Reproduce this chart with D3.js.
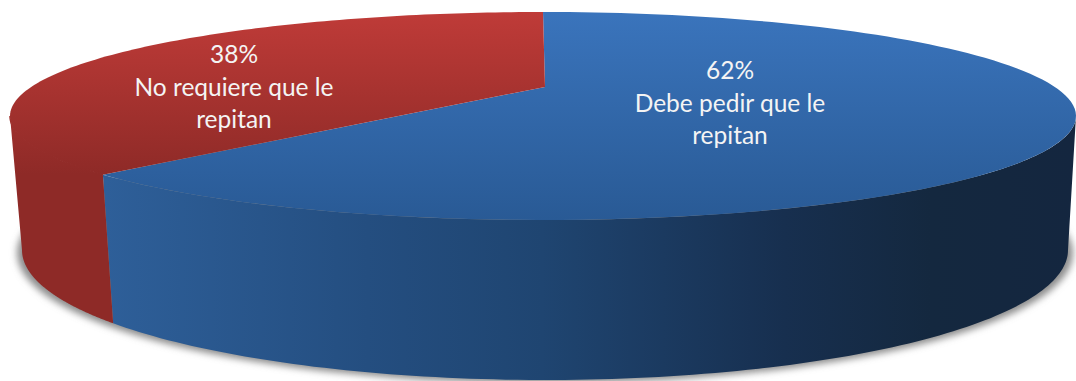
<!DOCTYPE html>
<html lang="es">
<head>
<meta charset="utf-8">
<style>
  html, body { margin: 0; padding: 0; background: #fff; }
  svg { display: block; }
  text { font-family: Lato, "Open Sans", sans-serif; fill: #f4f4f4; }
</style>
<script src="https://cdn.jsdelivr.net/npm/d3@7"></script>
</head>
<body>
<svg id="chart" width="1076" height="381"></svg>
<script>
const categories = ["Debe pedir que le repitan", "No requiere que le repitan"];
const shares = [62, 38];
const labelLines = [["62%", "Debe pedir que le", "repitan"], ["38%", "No requiere que le", "repitan"]];

const svg = d3.select("#chart");
const defs = svg.append("defs");

// Outline of the lid and of the base of the tilted disc
const lid = { cx: 543, cy: 116, rx: 533, ry: 104 };
const base = { cx: 545, cy: 250, rx: 523, ry: 130 };
const tilt = -0.28; // perspective shift of the pie centre towards the far edge

// Projective map of the unit disc onto itself: moves the centre, keeps the rim circular
function warp(u, v, k) {
  const d = 1 + k * v;
  return [u * Math.sqrt(1 - k * k) / d, (v + k) / d];
}
const onRim = (angle, e) => {
  const [u, v] = warp(Math.sin(angle), -Math.cos(angle), tilt);
  return [e.cx + e.rx * u, e.cy + e.ry * v];
};
// Pie angle whose projected rim point sits at the horizontal extreme (side = +1 or -1)
const extremeAngle = side => {
  const [u, v] = warp(side, 0, -tilt);
  return Math.atan2(u, -v);
};

const pie = d3.pie().sort(null).value(d => d);
const arcs = pie(shares);

const sweep = (a0, a1, e) => d3.range(0, 121).map(i => onRim(a0 + (a1 - a0) * i / 120, e));
const line = d3.line();

function gradient(id, horizontal, stops, from, to) {
  const g = defs.append("linearGradient").attr("id", id).attr("gradientUnits", "userSpaceOnUse")
    .attr("x1", horizontal ? from : 0).attr("x2", horizontal ? to : 0)
    .attr("y1", horizontal ? 0 : from).attr("y2", horizontal ? 0 : to);
  stops.forEach(([o, c]) => g.append("stop").attr("offset", o).attr("stop-color", c));
}
gradient("lid-blue", false, [[0, "#3a74bc"], [1, "#295a95"]], 13, 220);
gradient("lid-red", false, [[0, "#bf3b38"], [1, "#8e2a27"]], 13, 175);
gradient("side-blue", true, [[0, "#2e5f99"], [0.27, "#244e80"], [0.45, "#1f4571"], [0.7, "#172f4f"], [0.85, "#14283f"], [1, "#14263f"]], 105, 1076);

defs.append("filter").attr("id", "soft").attr("x", "-5%").attr("y", "-10%").attr("width", "110%").attr("height", "120%")
  .append("feGaussianBlur").attr("stdDeviation", 3.5);

// Ground shadow
svg.append("ellipse")
  .attr("cx", base.cx).attr("cy", base.cy + 3)
  .attr("rx", base.rx + 5).attr("ry", base.ry)
  .attr("fill", "#8c8c8c").attr("filter", "url(#soft)");

const rightA = extremeAngle(1);
const leftA = extremeAngle(-1) + 2 * Math.PI;
const split = arcs[0].endAngle;

// Side wall, one band per slice; the red band shares the lid's gradient so the two read as one surface
const wall = (a0, a1) => line(sweep(a0, a1, lid).concat(sweep(a1, a0, base))) + "Z";
svg.append("path").attr("d", wall(rightA, split)).attr("fill", "url(#side-blue)");
svg.append("path").attr("d", wall(split, leftA)).attr("fill", "url(#lid-red)");

// Lid slices; the red one is stroked in its own fill to close the hairline along the wall
const apex = [lid.cx + 2, lid.cy + lid.ry * tilt];
const lidFills = ["url(#lid-blue)", "url(#lid-red)"];
svg.selectAll("path.slice").data(arcs).join("path")
  .attr("class", "slice")
  .attr("d", d => line([apex].concat(sweep(d.startAngle, d.endAngle, lid))) + "Z")
  .attr("fill", (d, i) => lidFills[i]);
svg.append("path")
  .attr("d", line(sweep(split, leftA, lid)))
  .attr("fill", "none").attr("stroke", "url(#lid-red)").attr("stroke-width", 1.5);

// Labels
const labelAt = [[730, 79], [234, 63]];
const lineStep = 32.5;
labelLines.forEach((lines, i) => {
  const t = svg.append("text").attr("text-anchor", "middle").attr("font-size", 24.5);
  t.append("title").text(categories[i]);
  lines.forEach((s, j) => t.append("tspan")
    .attr("x", labelAt[i][0]).attr("y", labelAt[i][1] + j * lineStep).text(s));
});
</script>
</body>
</html>
